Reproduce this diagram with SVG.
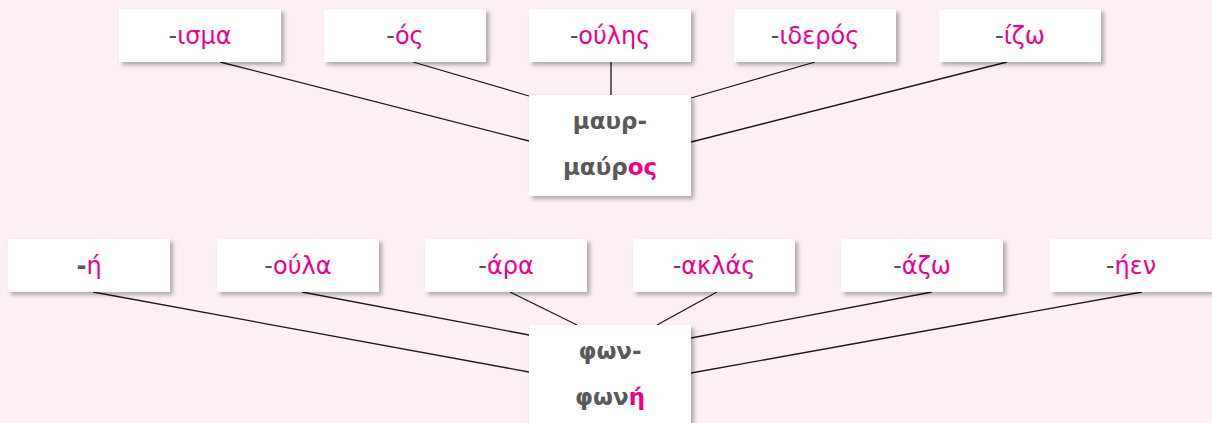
<svg xmlns="http://www.w3.org/2000/svg" width="1212" height="423" viewBox="0 0 1212 423">
<defs>
<filter id="sh" x="-10%" y="-20%" width="130%" height="150%">
<feDropShadow dx="3" dy="3" stdDeviation="2.2" flood-color="#000" flood-opacity="0.3"/>
</filter>
<style>
.box{fill:#fff;filter:url(#sh)}
.lbl{font-family:"DejaVu Sans","Noto Sans",sans-serif;font-size:24px;text-anchor:middle;fill:#555}
.pk{fill:#ec008c}
.ctr{font-family:"DejaVu Sans","Noto Sans",sans-serif;font-size:23px;font-weight:bold;text-anchor:middle;fill:#595959}
.con line{stroke:#1a1a1a;stroke-width:1.3}
</style>
</defs>
<rect width="1212" height="423" fill="#fcf0f4"/>
<g id="connectors" class="con">
<line x1="220" y1="62" x2="529" y2="141"/>
<line x1="413" y1="62" x2="529" y2="96"/>
<line x1="611" y1="62" x2="611" y2="95"/>
<line x1="815" y1="62" x2="691" y2="98"/>
<line x1="1007" y1="62" x2="691" y2="142"/>
<line x1="93" y1="292" x2="529" y2="372"/>
<line x1="302" y1="292" x2="529" y2="335"/>
<line x1="510" y1="292" x2="577" y2="325"/>
<line x1="717" y1="292" x2="657" y2="325"/>
<line x1="932" y1="292" x2="691" y2="338"/>
<line x1="1142" y1="292" x2="691" y2="373"/>
</g>
<g id="t1"><rect class="box" x="119" y="9" width="162" height="53"/><text class="lbl" x="200" y="44">-<tspan class="pk">ισμα</tspan></text></g>
<g id="t2"><rect class="box" x="324" y="9" width="162" height="53"/><text class="lbl" x="405" y="44">-<tspan class="pk">ός</tspan></text></g>
<g id="t3"><rect class="box" x="529" y="9" width="162" height="53"/><text class="lbl" x="610" y="44">-<tspan class="pk">ούλης</tspan></text></g>
<g id="t4"><rect class="box" x="734" y="9" width="162" height="53"/><text class="lbl" x="815" y="44">-<tspan class="pk">ιδερός</tspan></text></g>
<g id="t5"><rect class="box" x="939" y="9" width="162" height="53"/><text class="lbl" x="1020" y="44">-<tspan class="pk">ίζω</tspan></text></g>
<g id="center1"><rect class="box" x="529" y="95" width="162" height="101"/><text class="ctr" x="610" y="129">μαυρ-</text><text class="ctr" x="610" y="175">μαύρ<tspan class="pk">ος</tspan></text></g>
<g id="b1"><rect class="box" x="8" y="239" width="162" height="53"/><text class="lbl" x="89" y="274"><tspan font-weight="bold">-</tspan><tspan class="pk">ή</tspan></text></g>
<g id="b2"><rect class="box" x="217" y="239" width="162" height="53"/><text class="lbl" x="298" y="274">-<tspan class="pk">ούλα</tspan></text></g>
<g id="b3"><rect class="box" x="425" y="239" width="162" height="53"/><text class="lbl" x="506" y="274">-<tspan class="pk">άρα</tspan></text></g>
<g id="b4"><rect class="box" x="633" y="239" width="162" height="53"/><text class="lbl" x="714" y="274">-<tspan class="pk">ακλάς</tspan></text></g>
<g id="b5"><rect class="box" x="841" y="239" width="162" height="53"/><text class="lbl" x="922" y="274">-<tspan class="pk">άζω</tspan></text></g>
<g id="b6"><rect class="box" x="1050" y="239" width="162" height="53"/><text class="lbl" x="1131" y="274">-<tspan class="pk">ήεν</tspan></text></g>
<g id="center2"><rect class="box" x="529" y="325" width="162" height="110"/><text class="ctr" x="610" y="359">φων-</text><text class="ctr" x="610" y="405">φων<tspan class="pk">ή</tspan></text></g>
</svg>
